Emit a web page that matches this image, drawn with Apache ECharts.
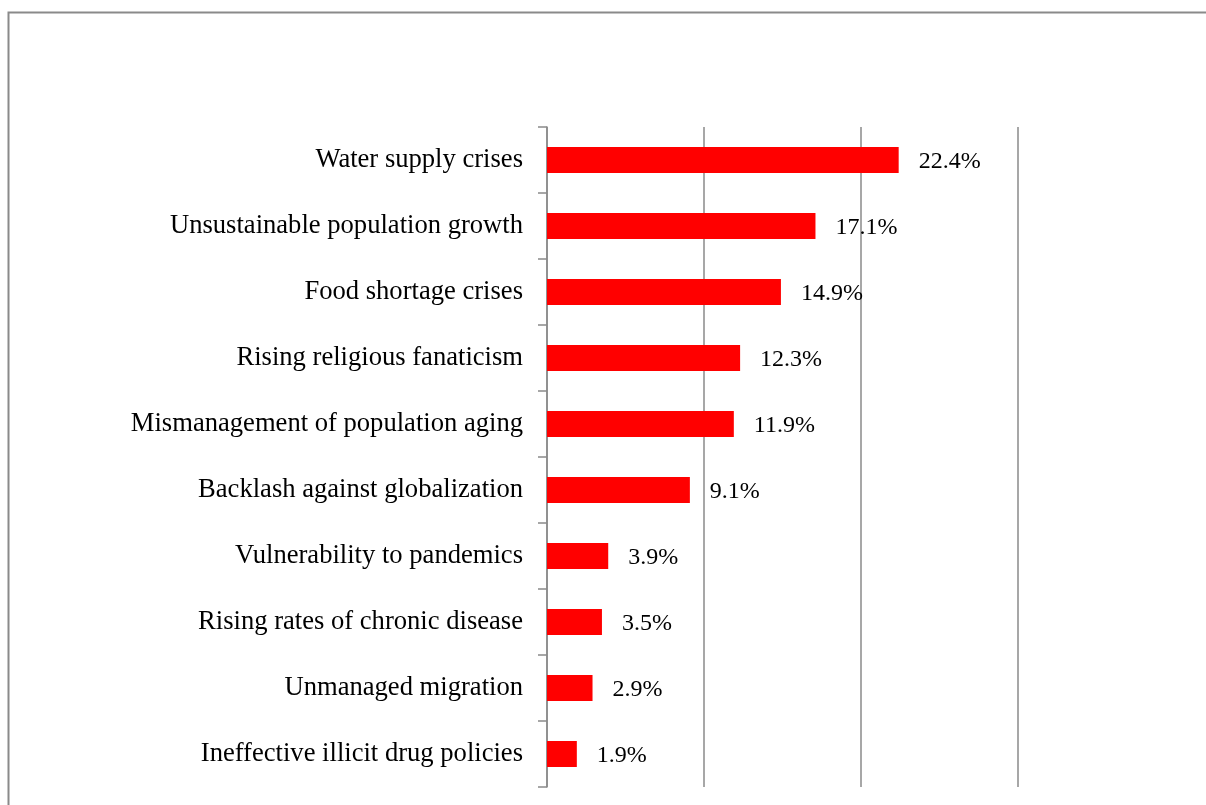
<!DOCTYPE html>
<html>
<head>
<meta charset="utf-8">
<style>
  html, body { margin: 0; padding: 0; background: #ffffff; }
  #chart { width: 1206px; height: 805px; }
</style>
<script src="https://cdn.jsdelivr.net/npm/echarts@6/dist/echarts.min.js"></script>
</head>
<body>
<div id="chart"></div>
<script>
// Risk categories, listed from the top bar down
const categories = [
  'Water supply crises',
  'Unsustainable population growth',
  'Food shortage crises',
  'Rising religious fanaticism',
  'Mismanagement of population aging',
  'Backlash against globalization',
  'Vulnerability to pandemics',
  'Rising rates of chronic disease',
  'Unmanaged migration',
  'Ineffective illicit drug policies'
];

// Share of respondents (%)
const shares = [22.4, 17.1, 14.9, 12.3, 11.9, 9.1, 3.9, 3.5, 2.9, 1.9];

const valueMin = 0;
const valueMax = 30;
const valueStep = 10;

const serif = '"Liberation Serif", "Times New Roman", "DejaVu Serif", serif';
const axisGray = '#8a8a8a';

const chart = echarts.init(document.getElementById('chart'), null, { renderer: 'canvas' });

chart.setOption({
  animation: false,
  backgroundColor: '#ffffff',
  graphic: [{
    type: 'rect',
    shape: { x: 8.5, y: 12.5, width: 1400, height: 1000 },
    style: { fill: 'none', stroke: axisGray, lineWidth: 2 },
    silent: true,
    z: 0
  }],
  grid: { left: 547, right: 188, top: 127, bottom: 18, containLabel: false },
  xAxis: {
    type: 'value',
    min: valueMin,
    max: valueMax,
    interval: valueStep,
    axisLine: { show: false },
    axisTick: { show: false },
    axisLabel: { show: false },
    splitLine: { show: true, lineStyle: { color: axisGray, width: 1.5 } }
  },
  yAxis: {
    type: 'category',
    data: categories,
    inverse: true,
    boundaryGap: true,
    axisLine: { show: true, lineStyle: { color: axisGray, width: 1.5 } },
    axisTick: { show: true, inside: false, length: 9, alignWithLabel: false, lineStyle: { color: axisGray, width: 1.5 } },
    axisLabel: { color: '#000000', fontFamily: serif, fontSize: 26.6, margin: 24, padding: [4, 0, 0, 0] },
    splitLine: { show: false }
  },
  series: [{
    type: 'bar',
    data: shares,
    barWidth: 26,
    itemStyle: { color: '#ff0000' },
    label: {
      show: true,
      position: 'right',
      distance: 20,
      offset: [0, 2],
      color: '#000000',
      fontFamily: serif,
      fontSize: 24,
      formatter: p => p.value.toFixed(1) + '%'
    }
  }]
});
</script>
</body>
</html>
